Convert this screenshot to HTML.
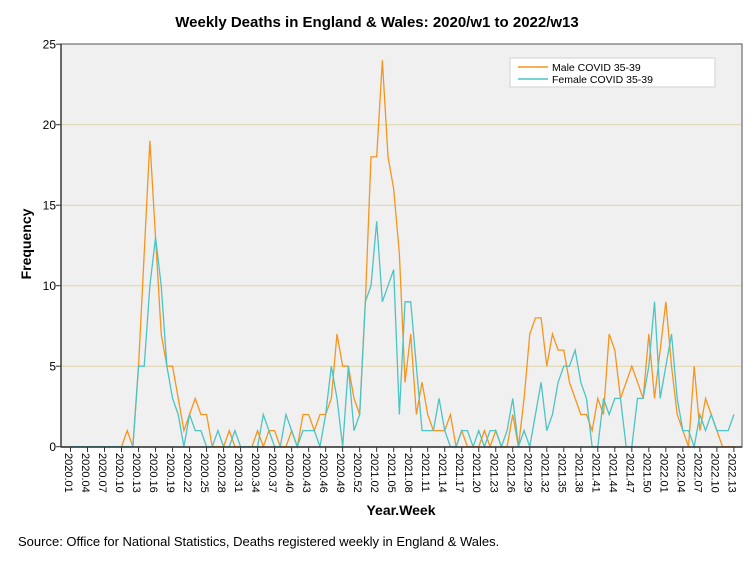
<!DOCTYPE html>
<html><head><meta charset="utf-8"><style>
body{margin:0;background:#fff;}
svg{display:block;font-family:"Liberation Sans",Arial,sans-serif;}
</style></head><body>
<svg id="chart" width="754" height="564">
<rect x="61" y="44" width="681" height="403" fill="#f0f0f0" stroke="#777" stroke-width="1.3"/>
<g id="grid"></g>
<g id="series"></g>
<g id="axes"></g>
<text x="377" y="27" text-anchor="middle" font-size="15" font-weight="bold">Weekly Deaths in England &amp; Wales: 2020/w1 to 2022/w13</text>
<text transform="rotate(-90,31,244)" x="31" y="244" text-anchor="middle" font-size="14" font-weight="bold">Frequency</text>
<text x="401" y="515" text-anchor="middle" font-size="14" font-weight="bold">Year.Week</text>
<text x="18" y="546" font-size="13">Source: Office for National Statistics, Deaths registered weekly in England &amp; Wales.</text>
<g>
<rect x="510" y="58" width="205" height="29" fill="#fff" stroke="#ddd" stroke-width="1.5"/>
<line x1="518" y1="67" x2="548" y2="67" stroke="#f7941d" stroke-width="1.5"/>
<text x="552" y="71" font-size="10.5">Male COVID 35-39</text>
<line x1="518" y1="79" x2="548" y2="79" stroke="#4cc4c4" stroke-width="1.5"/>
<text x="552" y="83" font-size="10.5">Female COVID 35-39</text>
</g>
</svg>
<script>
const male=[0,0,0,0,0,0,0,0,0,0,1,0,5,12,19,13,7,5,5,3,1,2,3,2,2,0,0,0,1,0,0,0,0,1,0,1,1,0,0,1,0,2,2,1,2,2,3,7,5,5,3,2,9,18,18,24,18,16,12,4,7,2,4,2,1,1,1,2,0,1,0,0,0,1,0,1,0,0,2,0,3,7,8,8,5,7,6,6,4,3,2,2,1,3,2,7,6,3,4,5,4,3,7,3,6,9,5,2,1,0,5,1,3,2,1,0,0,0];
const female=[0,0,0,0,0,0,0,0,0,0,0,0,5,5,10,13,10,5,3,2,0,2,1,1,0,0,1,0,0,1,0,0,0,0,2,1,0,0,2,1,0,1,1,1,0,2,5,3,0,5,1,2,9,10,14,9,10,11,2,9,9,5,1,1,1,3,1,0,0,1,1,0,1,0,1,1,0,1,3,0,1,0,2,4,1,2,4,5,5,6,4,3,0,0,3,2,3,3,0,0,3,3,5,9,3,5,7,3,1,1,0,2,1,2,1,1,1,2];
const yTicks=[0,5,10,15,20,25];
const years=[2020,2021,2022];
const weeksPerYear=[53,52,13];
const NS='http://www.w3.org/2000/svg';
const weeks=[];
years.forEach((y,k)=>{for(let w=1;w<=weeksPerYear[k];w++)weeks.push(y+'.'+String(w).padStart(2,'0'));});
const X=i=>70.5+i*5.67;
const Y=v=>446.7-v*16.1;
function mk(tag,attrs,parent){const e=document.createElementNS(NS,tag);for(const k in attrs)e.setAttribute(k,attrs[k]);parent.appendChild(e);return e;}
const grid=document.getElementById('grid'),axes=document.getElementById('axes'),ser=document.getElementById('series');
yTicks.forEach(t=>{
  if(t>0&&t<25){const l=mk('line',{x1:62,x2:741,y1:Y(t),y2:Y(t),stroke:'#ddd6a8','stroke-width':1},grid);
  
  }
  const tx=mk('text',{x:56,y:Y(t)+4.5,'text-anchor':'end','font-size':12},axes);tx.textContent=t;
  
  
  const tk=mk('line',{x1:56,x2:61,y1:Y(t),y2:Y(t),stroke:'#333'},axes);
  
  
});
const ax=mk('line',{x1:61,x2:61,y1:44,y2:447,stroke:'#333','stroke-width':1.3},axes);


const bx=mk('line',{x1:61,x2:742,y1:447,y2:447,stroke:'#333','stroke-width':1.5},axes);


weeks.forEach((w,i)=>{
  if(i%3!==0)return;
  const tk=mk('line',{x1:X(i),x2:X(i),y1:447,y2:452,stroke:'#333'},axes);
  
  
  const t=mk('text',{x:X(i)-5.5,y:453,'font-size':11,transform:'rotate(90,'+(X(i)-5.5)+',453)'},axes);
  t.textContent=w;
  
  
});
function line(data,color,name){
  const p=mk('polyline',{points:data.map((v,i)=>X(i)+','+Y(v)).join(' '),fill:'none',stroke:color,'stroke-width':1.3},ser);
  
  
}
line(male,'#f7941d','male-line');
line(female,'#4cc4c4','female-line');
</script>
</body></html>
